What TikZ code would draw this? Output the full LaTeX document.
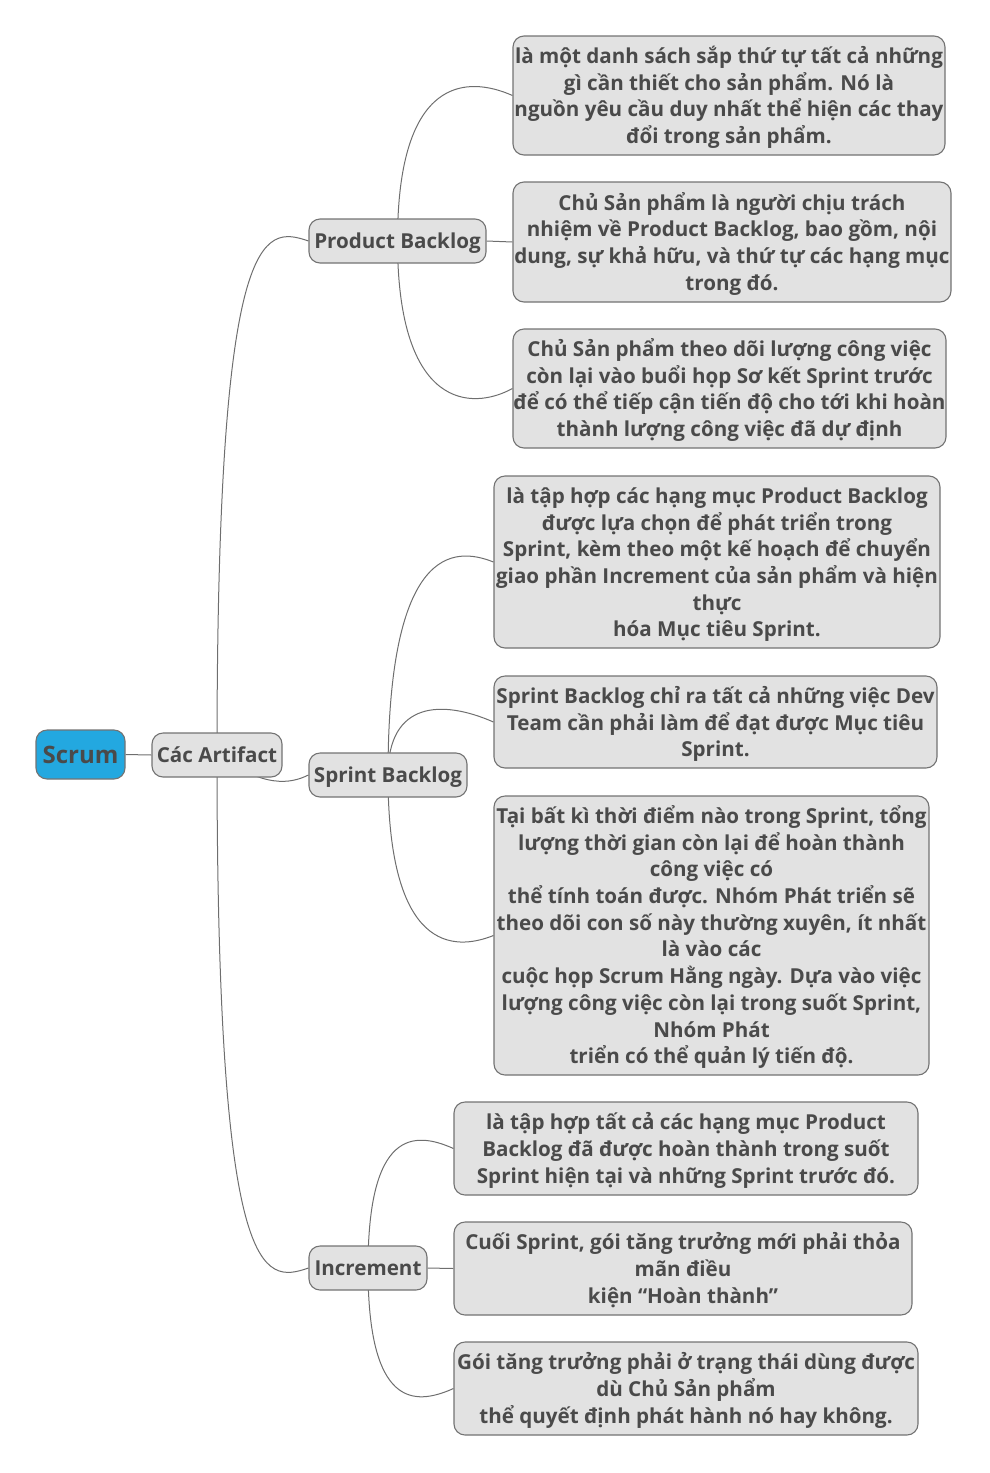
\documentclass[tikz,border=0pt]{standalone}
\usepackage{fontspec}
\setmainfont{Open Sans}
\usetikzlibrary{calc,backgrounds}
\definecolor{boxfill}{HTML}{E2E2E2}
\definecolor{boxline}{HTML}{737373}
\definecolor{txt}{HTML}{4A4A4A}
\definecolor{rootfill}{HTML}{23A8E0}
\definecolor{connc}{HTML}{6E6E6E}
\newcommand\lst{\rule{0pt}{22.5pt}}
\tikzset{
  boxbase/.style={draw=boxline, line width=1.1pt, fill=boxfill, rounded corners=11pt,
    text=txt, align=center, inner sep=0pt,
    font=\bfseries\fontsize{20.6}{26.7}\selectfont},
  leaf/.style={boxbase,
    execute at end node={\rule[-6.4pt]{0pt}{0pt}}},
  branch/.style={boxbase,
    execute at begin node={\rule{0pt}{21.5pt}},
    execute at end node={\rule[-7.4pt]{0pt}{0pt}}},
  rootbox/.style={boxbase, fill=rootfill, font=\bfseries\fontsize{24}{30}\selectfont},
  conn/.style={draw=connc, line width=1pt},
}
\newcommand\conn[4]{\draw[conn] (#1.center) .. controls ($(#1.center|-#2.west)+(0,#3)$) and ($(#2.west)+(-#4,#3)$) .. (#2.west);}
\begin{document}
\begin{tikzpicture}[x=1pt,y=1pt]
\useasboundingbox (0,0) rectangle (989,-1473);
\node[rootbox, minimum width=89pt, minimum height=49pt] (scrum) at (80.5,-754.5) {Scrum};
\node[branch, minimum width=130pt, minimum height=44pt] (art) at (217,-755) {Các Artifact};
\node[branch, minimum width=177pt, minimum height=44pt] (pb) at (397.5,-241) {Product Backlog};
\node[branch, minimum width=158pt, minimum height=44pt] (sb) at (388,-775) {Sprint Backlog};
\node[branch, minimum width=118pt, minimum height=44pt] (inc) at (368,-1268) {Increment};
\node[leaf, minimum width=432pt, minimum height=119pt] (pb1) at (729,-95.5) {\lst là một danh sách sắp thứ tự tất cả những\\gì cần thiết cho sản phẩm. Nó là\\nguồn yêu cầu duy nhất thể hiện các thay\\đổi trong sản phẩm.};
\node[leaf, minimum width=438pt, minimum height=120pt] (pb2) at (732,-242) {\lst Chủ Sản phẩm là người chịu trách\\nhiệm về Product Backlog, bao gồm, nội\\dung, sự khả hữu, và thứ tự các hạng mục\\trong đó.};
\node[leaf, minimum width=433pt, minimum height=119pt] (pb3) at (729.5,-388.5) {\lst Chủ Sản phẩm theo dõi lượng công việc\\còn lại vào buổi họp Sơ kết Sprint trước\\để có thể tiếp cận tiến độ cho tới khi hoàn\\thành lượng công việc đã dự định};
\node[leaf, minimum width=446pt, minimum height=172pt] (sb1) at (717,-562) {\lst là tập hợp các hạng mục Product Backlog\\được lựa chọn để phát triển trong\\Sprint, kèm theo một kế hoạch để chuyển\\giao phần Increment của sản phẩm và hiện\\thực\\hóa Mục tiêu Sprint.};
\node[leaf, minimum width=443pt, minimum height=92pt] (sb2) at (715.5,-722) {\lst Sprint Backlog chỉ ra tất cả những việc Dev\\Team cần phải làm để đạt được Mục tiêu\\Sprint.};
\node[leaf, minimum width=435pt, minimum height=279pt] (sb3) at (711.5,-935.5) {\lst Tại bất kì thời điểm nào trong Sprint, tổng\\lượng thời gian còn lại để hoàn thành\\công việc có\\thể tính toán được. Nhóm Phát triển sẽ\\theo dõi con số này thường xuyên, ít nhất\\là vào các\\cuộc họp Scrum Hằng ngày. Dựa vào việc\\lượng công việc còn lại trong suốt Sprint,\\Nhóm Phát\\triển có thể quản lý tiến độ.};
\node[leaf, minimum width=464pt, minimum height=93pt] (i1) at (686,-1148.5) {\lst là tập hợp tất cả các hạng mục Product\\Backlog đã được hoàn thành trong suốt\\Sprint hiện tại và những Sprint trước đó.};
\node[leaf, minimum width=458pt, minimum height=93pt] (i2) at (683,-1268.5) {\lst Cuối Sprint, gói tăng trưởng mới phải thỏa\\mãn điều\\kiện “Hoàn thành”};
\node[leaf, minimum width=464pt, minimum height=93pt] (i3) at (686,-1388.5) {\lst Gói tăng trưởng phải ở trạng thái dùng được\\dù Chủ Sản phẩm\\thể quyết định phát hành nó hay không.};
\begin{scope}[on background layer]
\draw[conn] (scrum.east) -- (art.west);
\conn{art}{pb}{16}{46}
\draw[conn] (art.center) .. controls (265,-788) and (290,-784) .. (sb.west);
\conn{art}{inc}{-16}{46}
\conn{pb}{pb1}{20}{45}
\draw[conn] (pb.east) -- (pb2.west);
\conn{pb}{pb3}{-22}{40}
\conn{sb}{sb1}{16}{40}
\conn{sb}{sb2}{22}{50}
\conn{sb}{sb3}{-16}{40}
\conn{inc}{i1}{18}{40}
\draw[conn] (inc.east) -- (i2.west);
\conn{inc}{i3}{-18}{40}
\end{scope}
\end{tikzpicture}
\end{document}
